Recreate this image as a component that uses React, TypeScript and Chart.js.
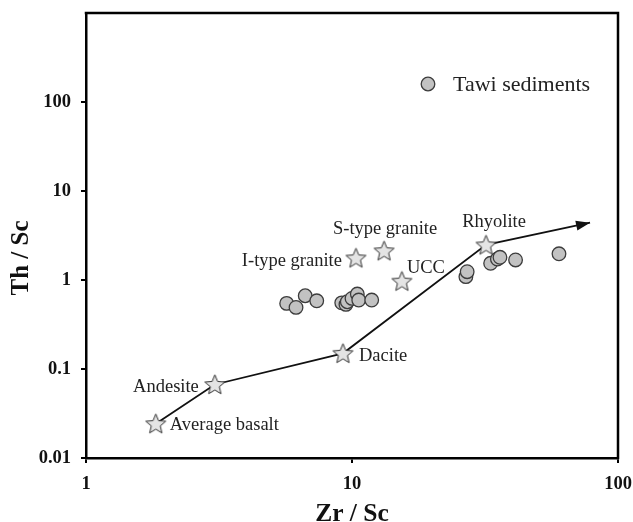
import React, { useEffect, useRef } from "react";
import { Chart, registerables } from "chart.js";

Chart.register(...registerables);

// ---- Data ----
const tawiZr = [5.68, 6.16, 6.67, 7.37, 9.15, 9.49, 9.6, 10.0, 10.47, 10.6, 11.86, 26.8, 27.1, 33.2, 35.2, 36.0, 41.2, 60.0];
const tawiTh = [0.546, 0.492, 0.665, 0.584, 0.554, 0.532, 0.57, 0.621, 0.695, 0.595, 0.595, 1.09, 1.24, 1.54, 1.72, 1.8, 1.68, 1.97];

const refNames = ["Average basalt", "Andesite", "Dacite", "Rhyolite", "I-type granite", "S-type granite", "UCC"];
const refZr = [1.83, 3.05, 9.25, 31.9, 10.35, 13.2, 15.4];
const refTh = [0.0243, 0.067, 0.15, 2.48, 1.77, 2.13, 0.97];

const trendZr = [1.83, 3.05, 9.25, 31.9, 78.5];
const trendTh = [0.0243, 0.067, 0.15, 2.48, 4.4];

const xTicks = [1, 10, 100];
const yTicks = [0.01, 0.1, 1, 10, 100];
const xRange = [1, 100];
const yRange = [0.01, 1000];

const legendLabel = "Tawi sediments";
const xTitle = "Zr / Sc";
const yTitle = "Th / Sc";

// label placement (style only)
const labelOffsets: { dx: number; dy: number; align: CanvasTextAlign }[] = [
  { dx: 14, dy: 1, align: "left" },
  { dx: -16, dy: 3, align: "right" },
  { dx: 16, dy: 3, align: "left" },
  { dx: 8, dy: -23, align: "center" },
  { dx: -14, dy: 3, align: "right" },
  { dx: 1, dy: -22, align: "center" },
  { dx: 5, dy: -13, align: "left" },
];

const SERIF = "'Liberation Serif', 'Times New Roman', serif";
const CIRCLE_FILL = "#c2c2c2";
const CIRCLE_STROKE = "#3c3c3c";

function makeStar(r: number): HTMLCanvasElement {
  const size = Math.ceil(r * 2 + 4);
  const c = document.createElement("canvas");
  c.width = size;
  c.height = size;
  const ctx = c.getContext("2d")!;
  const cx = size / 2;
  const cy = size / 2 + 0.8;
  ctx.beginPath();
  for (let i = 0; i < 10; i++) {
    const rad = i % 2 === 0 ? r : r * 0.45;
    const a = -Math.PI / 2 + (i * Math.PI) / 5;
    const x = cx + rad * Math.cos(a);
    const y = cy + rad * Math.sin(a);
    if (i === 0) ctx.moveTo(x, y);
    else ctx.lineTo(x, y);
  }
  ctx.closePath();
  ctx.fillStyle = "#e4e4e4";
  ctx.fill();
  ctx.lineWidth = 1;
  ctx.strokeStyle = "#333";
  ctx.stroke();
  return c;
}

export default function App() {
  const ref = useRef<HTMLCanvasElement | null>(null);

  useEffect(() => {
    document.body.style.margin = "0";
    const canvas = ref.current!;
    const star = makeStar(10.5);

    const framePlugin = {
      id: "frame",
      afterDraw(chart: any) {
        const { ctx, chartArea: a } = chart;
        ctx.save();
        ctx.strokeStyle = "#000";
        ctx.lineWidth = 2.5;
        ctx.beginPath();
        ctx.moveTo(a.left - 1.25, a.top);
        ctx.lineTo(a.right, a.top);
        ctx.lineTo(a.right, a.bottom + 1.25);
        ctx.stroke();
        // y-axis title
        ctx.translate(22, a.top + 245);
        ctx.rotate(-Math.PI / 2);
        ctx.font = `bold 25px ${SERIF}`;
        ctx.fillStyle = "#111";
        ctx.textAlign = "center";
        ctx.textBaseline = "middle";
        ctx.fillText(yTitle, 0, 0);
        ctx.restore();
      },
    };

    const arrowPlugin = {
      id: "arrow",
      afterDatasetsDraw(chart: any) {
        const meta = chart.getDatasetMeta(2);
        const pts = meta.data;
        if (pts.length < 2) return;
        const p1 = pts[pts.length - 2];
        const p2 = pts[pts.length - 1];
        const ang = Math.atan2(p2.y - p1.y, p2.x - p1.x);
        const { ctx } = chart;
        const L = 14, W = 5;
        ctx.save();
        ctx.translate(p2.x, p2.y);
        ctx.rotate(ang);
        ctx.beginPath();
        ctx.moveTo(0, 0);
        ctx.lineTo(-L, -W);
        ctx.lineTo(-L, W);
        ctx.closePath();
        ctx.fillStyle = "#111";
        ctx.fill();
        ctx.restore();
      },
    };

    const labelPlugin = {
      id: "labels",
      afterDatasetsDraw(chart: any) {
        const meta = chart.getDatasetMeta(0);
        const { ctx } = chart;
        ctx.save();
        ctx.font = `18.5px ${SERIF}`;
        ctx.fillStyle = "#222";
        ctx.textBaseline = "middle";
        meta.data.forEach((el: any, i: number) => {
          const o = labelOffsets[i];
          ctx.textAlign = o.align;
          ctx.fillText(refNames[i], el.x + o.dx, el.y + o.dy);
        });
        ctx.restore();
      },
    };

    const legendPlugin = {
      id: "customLegend",
      afterDraw(chart: any) {
        const { ctx, chartArea: a } = chart;
        const cx = a.left + 342;
        const cy = a.top + 71;
        ctx.save();
        ctx.beginPath();
        ctx.arc(cx, cy, 6.8, 0, Math.PI * 2);
        ctx.fillStyle = CIRCLE_FILL;
        ctx.fill();
        ctx.lineWidth = 1.3;
        ctx.strokeStyle = CIRCLE_STROKE;
        ctx.stroke();
        ctx.font = `22px ${SERIF}`;
        ctx.fillStyle = "#222";
        ctx.textAlign = "left";
        ctx.textBaseline = "middle";
        ctx.fillText(legendLabel, cx + 25, cy + 1);
        ctx.restore();
      },
    };

    const chart = new Chart(canvas, {
      type: "scatter",
      data: {
        datasets: [
          {
            label: "Reference",
            data: refZr.map((x, i) => ({ x, y: refTh[i] })),
            pointStyle: star as any,
            pointRadius: 10,
            showLine: false,
          },
          {
            label: legendLabel,
            data: tawiZr.map((x, i) => ({ x, y: tawiTh[i] })),
            pointStyle: "circle",
            pointRadius: 6.8,
            backgroundColor: CIRCLE_FILL,
            borderColor: CIRCLE_STROKE,
            borderWidth: 1.3,
            showLine: false,
          },
          {
            label: "Trend",
            data: trendZr.map((x, i) => ({ x, y: trendTh[i] })),
            showLine: true,
            pointRadius: 0,
            borderColor: "#111",
            borderWidth: 1.8,
            fill: false,
          },
        ],
      },
      options: {
        responsive: false,
        animation: false,
        devicePixelRatio: 1,
        layout: { padding: { top: 13, right: 15, left: 0, bottom: 0 } },
        plugins: { legend: { display: false }, tooltip: { enabled: false } },
        scales: {
          x: {
            type: "logarithmic",
            min: xRange[0],
            max: xRange[1],
            afterBuildTicks: (s: any) => {
              s.ticks = xTicks.map((v) => ({ value: v }));
            },
            afterFit: (s: any) => {
              s.height = 64;
              s.paddingLeft = 0;
              s.paddingRight = 0;
            },
            ticks: {
              color: "#111",
              font: { family: SERIF, size: 18.5, weight: "bold" },
              padding: 10,
              maxRotation: 0,
              autoSkip: false,
              callback: (v: any) => String(v),
            },
            grid: { drawOnChartArea: false, drawTicks: true, tickLength: 5, color: "#000", lineWidth: 2 },
            border: { display: true, color: "#000", width: 2.5 },
            title: {
              display: true,
              text: xTitle,
              color: "#111",
              font: { family: SERIF, size: 25.5, weight: "bold", lineHeight: 1 },
              padding: { top: 0, bottom: -5 },
            },
          },
          y: {
            type: "logarithmic",
            min: yRange[0],
            max: yRange[1],
            afterBuildTicks: (s: any) => {
              s.ticks = yTicks.map((v) => ({ value: v }));
            },
            afterFit: (s: any) => {
              s.width = 86;
              s.paddingTop = 0;
              s.paddingBottom = 0;
            },
            ticks: {
              color: "#111",
              font: { family: SERIF, size: 18.5, weight: "bold" },
              padding: 10,
              autoSkip: false,
              callback: (v: any) => String(v),
            },
            grid: { drawOnChartArea: false, drawTicks: true, tickLength: 5, color: "#000", lineWidth: 2 },
            border: { display: true, color: "#000", width: 2.5 },
            title: { display: false },
          },
        },
      },
      plugins: [framePlugin, arrowPlugin, labelPlugin, legendPlugin],
    } as any);

    return () => chart.destroy();
  }, []);

  return (
    <div style={{ width: 633, height: 522 }}>
      <canvas ref={ref} width={633} height={522} style={{ display: "block" }} />
    </div>
  );
}
